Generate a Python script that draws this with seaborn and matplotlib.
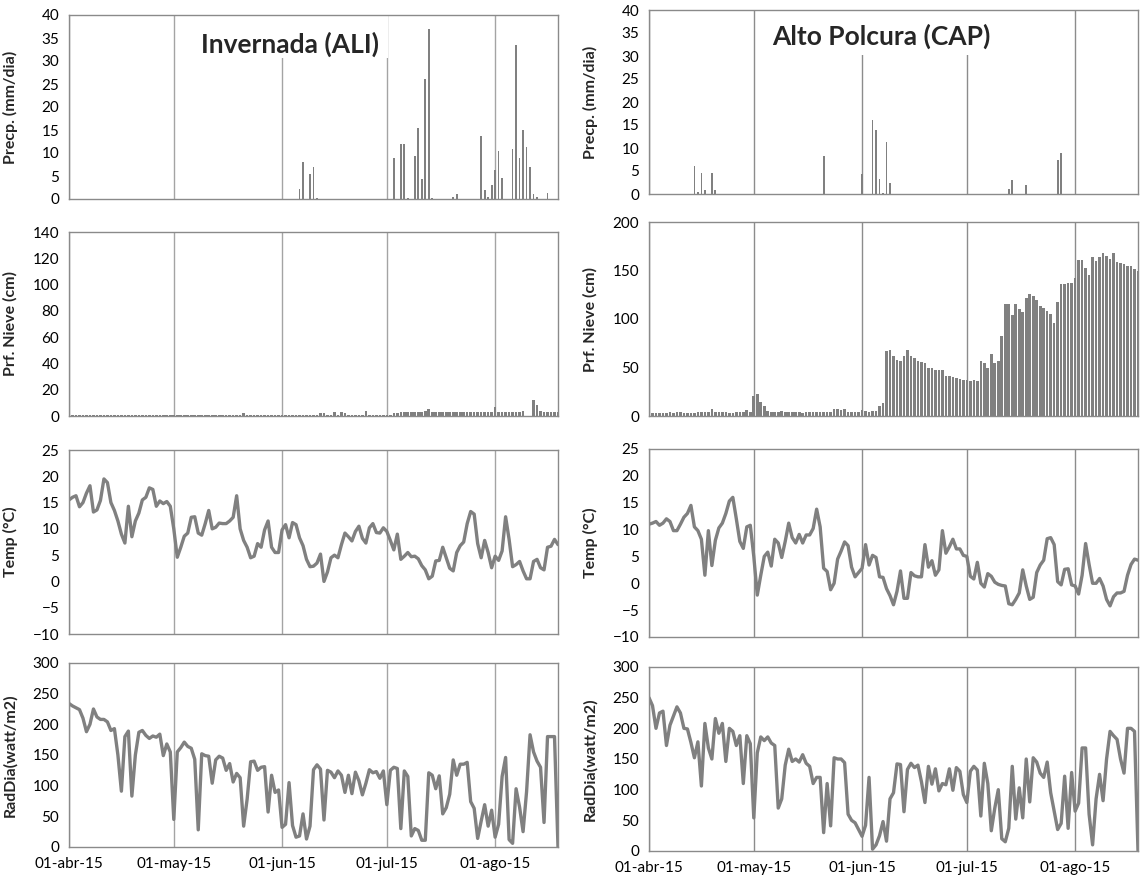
import matplotlib; matplotlib.use('Agg')
import numpy as np
import pandas as pd
import matplotlib.pyplot as plt
import matplotlib.patches as mpatches
import seaborn as sns

# Daily series, 01-abr-15 .. 19-ago-15 (141 days)
n_days = 141
month_ticks = [0, 30, 61, 91, 122]
month_labels = ['01-abr-15', '01-may-15', '01-jun-15', '01-jul-15', '01-ago-15']

# Precipitation (only rainy days listed)
ali_precip_days = [66, 67, 69, 70, 71, 93, 95, 96, 97, 99, 100, 101, 102, 103, 104, 110, 111,
                   118, 119, 120, 121, 122, 123, 124, 127, 128, 129, 130, 131, 132, 133, 134, 137]
ali_precip_vals = [2.2, 8.0, 5.4, 7.0, 0.3, 9.0, 12.0, 12.0, 0.3, 9.3, 15.4, 4.4, 26.0, 37.0, 0.3, 0.5, 1.0,
                   13.8, 2.0, 0.5, 3.0, 6.4, 10.4, 4.6, 10.8, 33.5, 9.0, 15.0, 11.2, 7.0, 1.0, 0.5, 1.2]
cap_precip_days = [13, 14, 15, 16, 18, 19, 50, 61, 64, 65, 66, 67, 68, 69, 103, 104, 108, 117, 118]
cap_precip_vals = [6.1, 0.5, 4.6, 0.8, 4.6, 0.8, 8.2, 4.3, 16.1, 14.0, 3.3, 0.3, 11.4, 2.5, 1.1, 3.0, 1.9, 7.5, 9.0]

# Snow depth (cm)
ali_snow = ([1, 1, 1, 1, 1, 1, 1, 1, 1, 1, 1, 1, 1, 1, 1, 1, 1, 1, 1, 1, 1, 1, 1, 1, 1, 1, 1, 1, 1, 1]
            + [1, 1, 1, 1, 1, 1, 1, 1, 1, 1, 1, 1, 1, 1, 1, 1, 1, 1, 1, 1, 2, 1, 1, 1, 1, 1, 1, 1, 1, 1, 1]
            + [1, 1, 1, 1, 1, 1, 1, 1, 1, 1, 1, 2, 2, 1, 1, 3, 1, 3, 2, 1, 1, 1, 1, 1, 4, 1, 1, 1, 1, 1]
            + [1, 1, 2, 2, 3, 3, 3, 3, 3, 3, 3, 4, 5, 3, 3, 3, 3, 3, 3, 3, 3, 3, 3, 3, 3, 3, 3, 3, 3, 3, 3]
            + [6.5, 3, 3, 3, 3, 3, 3, 3, 4, 0, 0, 12, 8, 4, 3, 3, 3, 3, 3])
cap_snow = ([3, 3, 3, 3, 3, 3, 4, 3, 4, 4, 3, 3, 3, 3, 4, 4, 4, 4, 7, 4, 4, 4, 4, 3, 3, 4, 4, 4, 6, 4]
            + [21, 23, 14, 10, 5, 4, 4, 4, 5, 4, 4, 4, 4, 4, 3, 4, 4, 4, 4, 4, 4, 4, 4, 7, 7, 6, 7, 4, 4, 4, 4]
            + [6, 5, 4, 5, 5, 10, 13, 67, 68, 62, 58, 57, 62, 68, 62, 60, 57, 56, 55, 49, 49, 47, 47, 47, 41, 41, 40, 39, 38, 37]
            + [37, 36, 37, 36, 57, 55, 50, 64, 55, 57, 82, 115, 115, 104, 115, 110, 107, 122, 126, 124, 120, 113, 111, 108, 105, 96, 118, 136, 136, 137, 137]
            + [142, 161, 161, 153, 145, 164, 160, 164, 168, 165, 162, 168, 159, 158, 157, 155, 155, 152, 150])

# Mean air temperature (C)
ali_temp = ([15.5, 16.0, 16.3, 14.2, 15.0, 16.8, 18.2, 13.2, 13.6, 15.4, 19.5, 18.8, 15.0, 13.5, 11.5, 9.0, 7.3, 14.3, 8.5, 11.5, 13.0, 15.5, 16.0, 17.8, 17.5, 14.3, 15.3, 14.8, 15.2, 14.3]
            + [10.0, 4.6, 6.5, 8.6, 9.2, 12.2, 12.3, 9.2, 8.8, 11.0, 13.5, 10.0, 10.3, 11.1, 11.0, 11.0, 11.5, 12.2, 16.3, 10.0, 7.8, 6.5, 4.5, 4.8, 7.2, 6.5, 9.8, 11.5, 6.5, 5.5, 5.5]
            + [9.8, 10.8, 8.3, 11.2, 10.8, 8.3, 6.8, 4.2, 2.8, 2.9, 3.5, 5.2, 0.0, 1.8, 4.5, 5.0, 4.5, 7.0, 9.2, 8.5, 7.7, 9.5, 10.5, 8.2, 7.3, 10.2, 11.0, 9.3, 9.2, 10.2]
            + [9.5, 7.8, 6.0, 9.0, 4.2, 4.8, 5.5, 4.7, 4.8, 4.3, 3.0, 2.2, 0.5, 1.0, 3.9, 4.0, 6.5, 4.5, 2.5, 2.0, 5.5, 6.8, 7.5, 11.0, 13.3, 12.8, 7.2, 4.5, 7.8, 5.5, 2.6]
            + [4.8, 4.0, 5.8, 12.3, 8.0, 2.8, 3.2, 3.8, 2.0, 0.5, 0.5, 3.8, 4.2, 2.6, 2.2, 6.5, 6.7, 8.0, 7.0])
cap_temp = ([11.0, 11.2, 11.5, 10.8, 11.2, 12.0, 11.5, 9.8, 9.8, 11.0, 12.3, 13.0, 14.5, 10.5, 9.8, 8.2, 1.5, 9.8, 3.3, 8.0, 10.3, 11.2, 13.0, 15.3, 16.0, 12.0, 7.8, 6.5, 10.5, 10.8]
            + [5.0, -2.2, 1.5, 5.0, 5.8, 3.2, 8.2, 7.5, 4.8, 7.8, 11.2, 8.5, 7.5, 9.1, 7.5, 9.0, 9.0, 10.2, 13.8, 10.5, 2.8, 2.2, -1.2, 0.0, 4.5, 6.0, 7.7, 7.0, 3.0, 1.2, 2.0]
            + [2.8, 7.2, 3.4, 5.2, 4.8, 1.2, 1.1, -1.0, -2.3, -4.0, -1.5, 2.3, -2.8, -2.8, 2.0, 1.4, 1.2, 1.2, 7.2, 3.0, 4.2, 1.5, 2.5, 9.8, 5.6, 6.8, 8.2, 6.4, 6.4, 5.2]
            + [5.0, 1.3, 0.8, 3.9, 0.0, -0.7, 1.8, 1.3, 0.2, -0.2, -0.4, -0.5, -3.8, -4.0, -3.0, -1.8, 2.5, -0.5, -3.0, -2.6, 2.0, 3.4, 4.3, 8.3, 8.5, 7.2, 0.3, -0.3, 2.6, 2.7, -0.3]
            + [-0.5, -2.0, 1.5, 7.4, 3.5, 0.0, 0.0, 0.9, -0.5, -3.0, -4.2, -2.5, -1.8, -1.8, -1.5, 1.5, 3.5, 4.5, 4.3])

# Daily radiation (watt/m2)
ali_rad = ([234, 230, 227, 224, 210, 188, 200, 225, 212, 208, 208, 204, 190, 193, 150, 91, 180, 189, 83, 150, 187, 190, 182, 177, 181, 179, 184, 149, 168, 155]
           + [45, 155, 162, 171, 164, 161, 143, 28, 152, 149, 148, 104, 142, 148, 145, 125, 136, 106, 120, 113, 34, 78, 139, 140, 125, 130, 131, 57, 117, 89, 93]
           + [32, 37, 105, 35, 16, 18, 54, 13, 34, 126, 134, 127, 44, 125, 122, 113, 124, 117, 89, 117, 87, 122, 108, 85, 104, 126, 121, 123, 112, 124]
           + [69, 125, 130, 128, 30, 124, 115, 18, 30, 27, 11, 11, 121, 117, 95, 116, 54, 64, 86, 142, 117, 135, 135, 138, 74, 63, 14, 42, 69, 34, 60]
           + [16, 37, 115, 146, 12, 6, 95, 65, 25, 90, 183, 155, 140, 130, 40, 180, 180, 180, 0])
cap_rad = ([250, 237, 200, 225, 228, 172, 205, 220, 235, 225, 200, 199, 177, 152, 178, 106, 208, 168, 150, 216, 192, 208, 146, 200, 195, 172, 188, 110, 188, 175]
           + [54, 160, 186, 180, 186, 176, 172, 70, 85, 140, 166, 146, 150, 145, 157, 143, 138, 110, 120, 120, 30, 110, 41, 152, 150, 150, 144, 60, 50, 46, 35]
           + [24, 42, 120, 3, 10, 25, 48, 16, 85, 95, 142, 141, 64, 133, 143, 136, 140, 113, 79, 138, 109, 134, 98, 110, 108, 134, 99, 136, 130, 92]
           + [79, 130, 138, 132, 57, 143, 110, 33, 70, 100, 20, 15, 37, 138, 52, 103, 54, 150, 80, 152, 145, 127, 120, 145, 95, 65, 35, 45, 122, 37, 128]
           + [65, 78, 168, 168, 60, 10, 85, 125, 82, 150, 195, 188, 182, 150, 127, 200, 200, 195, 0])

days = np.arange(n_days)


def full_precip(pdays, pvals):
    out = np.zeros(n_days)
    out[pdays] = pvals
    return out


sns.set_style('white')
plt.rcParams['font.family'] = ['Lato', 'DejaVu Sans']

GRAY = '#808080'
AXC = '#8a8a8a'
W, H = 1141, 882
fig = plt.figure(figsize=(W / 100, H / 100), dpi=100)


def px_axes(x0, y0, x1, y1):
    return fig.add_axes([x0 / W, 1 - y1 / H, (x1 - x0) / W, (y1 - y0) / H])


def style(ax, ylim, step, ylabel, grid_color, bottom=False):
    ax.set_xlim(0, n_days - 1)
    ax.set_ylim(*ylim)
    ax.set_yticks(np.arange(ylim[0], ylim[1] + 0.1, step))
    ax.set_xticks(month_ticks)
    if bottom:
        ax.set_xticklabels(month_labels)
    else:
        ax.set_xticklabels([])
    ax.grid(axis='x', color=grid_color, linewidth=1.0)
    ax.grid(axis='y', visible=False)
    for s in ax.spines.values():
        s.set_color(AXC)
        s.set_linewidth(1.0)
    ax.tick_params(direction='out', length=4, width=1, color=AXC, labelsize=11,
                   labelcolor='black', pad=3)
    ax.set_xlabel('')
    ax.set_ylabel(ylabel, fontweight='bold', fontsize=11.5)
    ax.yaxis.set_label_coords(-0.105, 0.5)


cols = [
    dict(x0=69, x1=558, rows=[(15, 199), (232, 416), (450, 634), (663, 847)],
         precip=full_precip(ali_precip_days, ali_precip_vals), snow=ali_snow,
         temp=ali_temp, rad=ali_rad, snow_lim=(0, 140), snow_step=20, grid='#a4a4a4',
         title='Invernada (ALI)', tpos=(0.452, 0.842), box=(0.26, 0.766, 0.392, 0.226)),
    dict(x0=649, x1=1138, rows=[(10, 194), (222, 416), (449, 637), (667, 851)],
         precip=full_precip(cap_precip_days, cap_precip_vals), snow=cap_snow,
         temp=cap_temp, rad=cap_rad, snow_lim=(0, 200), snow_step=50, grid='#8c8c8c',
         title='Alto Polcura (CAP)', tpos=(0.476, 0.859), box=(0.237, 0.755, 0.477, 0.237)),
]

for c in cols:
    r = c['rows']
    ax1 = px_axes(c['x0'], r[0][0], c['x1'], r[0][1])
    sns.barplot(x=days, y=c['precip'], native_scale=True, color=GRAY, saturation=1,
                width=0.5, errorbar=None, linewidth=0, ax=ax1)
    style(ax1, (0, 40), 5, 'Precp. (mm/dia)', c['grid'])
    bx = c['box']
    ax1.add_patch(mpatches.Rectangle((bx[0], bx[1]), bx[2], bx[3], transform=ax1.transAxes,
                                     facecolor='white', edgecolor='none', zorder=2))
    ax1.text(c['tpos'][0], c['tpos'][1], c['title'], transform=ax1.transAxes,
             ha='center', va='center', fontsize=19, fontweight='bold', zorder=3)

    ax2 = px_axes(c['x0'], r[1][0], c['x1'], r[1][1])
    sns.barplot(x=days, y=c['snow'], native_scale=True, color=GRAY, saturation=1,
                width=0.75, errorbar=None, linewidth=0, ax=ax2)
    style(ax2, c['snow_lim'], c['snow_step'], 'Prf. Nieve (cm)', c['grid'])

    ax3 = px_axes(c['x0'], r[2][0], c['x1'], r[2][1])
    sns.lineplot(x=days, y=c['temp'], color=GRAY, linewidth=2.4, ax=ax3)
    style(ax3, (-10, 25), 5, 'Temp (°C)', c['grid'])

    ax4 = px_axes(c['x0'], r[3][0], c['x1'], r[3][1])
    sns.lineplot(x=days, y=c['rad'], color=GRAY, linewidth=2.4, ax=ax4)
    style(ax4, (0, 300), 50, 'RadDia(watt/m2)', c['grid'], bottom=True)

fig.savefig('out.png', dpi=100)
